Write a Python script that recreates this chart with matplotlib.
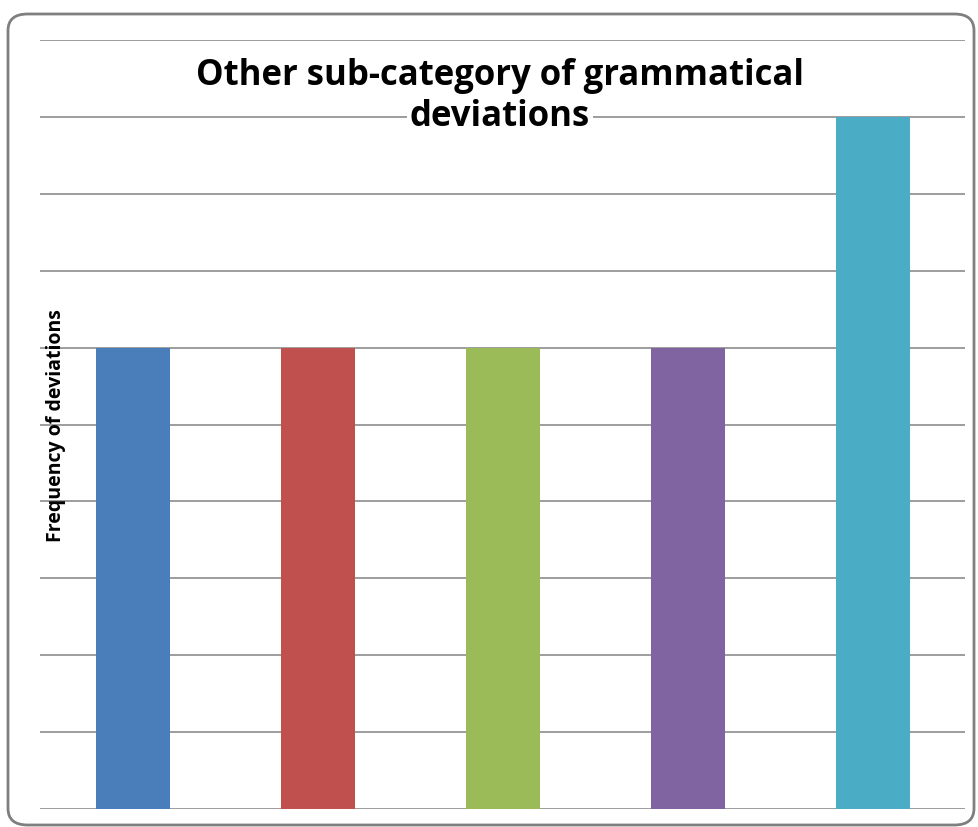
import matplotlib.pyplot as plt
from matplotlib.patches import FancyBboxPatch

categories = ['A', 'B', 'C', 'D', 'E']
values = [6, 6, 6, 6, 9]
colors = ['#4a7ebb', '#c0504d', '#9bbb59', '#8064a2', '#4bacc6']
title_lines = ['Other sub-category of grammatical', 'deviations']

fig = plt.figure(figsize=(9.79, 8.28), dpi=100)
ax = fig.add_axes([40 / 979, 1 - 810 / 828, 925 / 979, 769 / 828])

x = range(len(categories))
ax.bar(x, values, width=0.4, color=colors, zorder=3)

ax.set_xlim(-0.5, len(categories) - 0.5)
ax.set_ylim(0, 10)
ax.set_yticks(range(0, 11))
ax.yaxis.grid(True, color='#8c8c8c', linewidth=1.2)
ax.set_axisbelow(True)
ax.tick_params(left=False, bottom=False, labelleft=False, labelbottom=False)
for s in ax.spines.values():
    s.set_visible(False)

fnt = ['Open Sans', 'DejaVu Sans']
ax.set_ylabel('Frequency of deviations', fontsize=14, fontweight='bold', family=fnt)
ax.yaxis.set_label_coords(26 / 925, 0.5)

fig.text(500 / 979, 1 - 76 / 828, title_lines[0], ha='center', va='center',
         fontsize=25, fontweight='bold', family=fnt,
         bbox=dict(facecolor='white', edgecolor='none', pad=2))
fig.text(500 / 979, 1 - 117 / 828, title_lines[1], ha='center', va='center',
         fontsize=25, fontweight='bold', family=fnt,
         bbox=dict(facecolor='white', edgecolor='none', pad=2))

# rounded outer border
border = FancyBboxPatch((8 / 979, 2 / 828), 966 / 979, 811 / 828,
                        boxstyle='round,pad=0,rounding_size=0.02',
                        transform=fig.transFigure, fill=False,
                        edgecolor='#7f7f7f', linewidth=2)
fig.patches.append(border)

fig.savefig('out.png', dpi=100)
